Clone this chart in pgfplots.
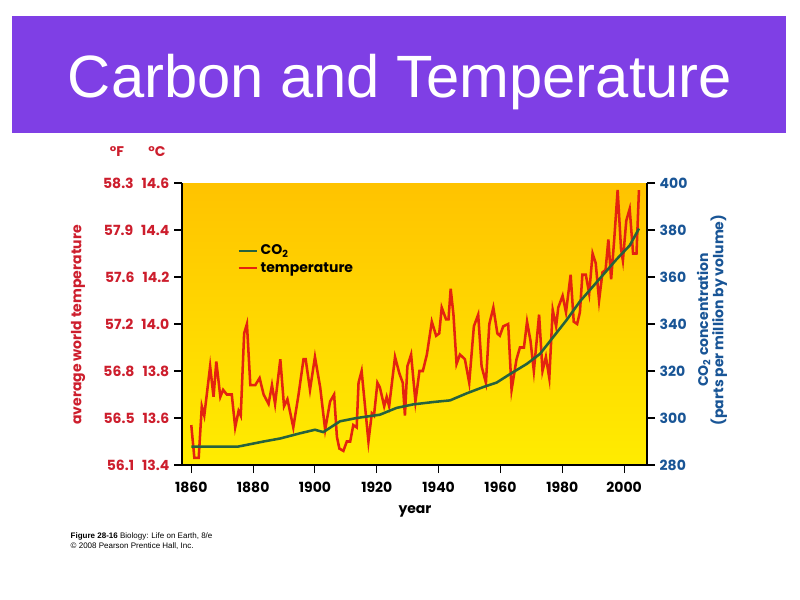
\documentclass[border=0pt]{standalone}
\usepackage{fontspec}
\setmainfont{Liberation Sans}
\newfontfamily\pop{Poppins}
\usepackage{pgfplots}
\pgfplotsset{compat=1.18}

\definecolor{band}{RGB}{127,63,229}
\definecolor{lblred}{RGB}{205,30,45}
\definecolor{lblblue}{RGB}{25,85,150}
\definecolor{tred}{RGB}{228,35,15}
\definecolor{cgreen}{RGB}{38,98,62}
\definecolor{topy}{RGB}{255,195,0}
\definecolor{boty}{RGB}{255,236,0}
\newcommand\cf{\pop\bfseries\fontsize{10.5}{11.5}\selectfont}

\pgfplotstableread{
year T
1860 13.57
1861 13.43
1862.4 13.43
1863.4 13.65
1864.2 13.61
1866.1 13.82
1867.2 13.69
1868.1 13.84
1869.4 13.69
1870.3 13.72
1871.5 13.70
1873.1 13.70
1874.2 13.56
1875.3 13.63
1876 13.61
1877.1 13.96
1878 14.00
1879.1 13.74
1880.7 13.74
1882.1 13.77
1883.4 13.70
1885 13.66
1886.1 13.74
1887.1 13.66
1888.8 13.85
1890 13.65
1891.1 13.68
1893 13.56
1894.7 13.70
1896.3 13.85
1897 13.85
1898.4 13.72
1900 13.86
1901.7 13.73
1903.3 13.55
1904.9 13.67
1906.2 13.70
1907.1 13.52
1907.9 13.47
1909.2 13.46
1910.3 13.50
1911.4 13.50
1912.4 13.57
1913.5 13.56
1914.1 13.75
1915.1 13.80
1916.2 13.65
1917.3 13.50
1918.4 13.62
1919.1 13.61
1920.2 13.75
1921 13.73
1922.4 13.65
1923.2 13.69
1924 13.65
1925.9 13.86
1927.3 13.79
1928.4 13.75
1929.1 13.61
1929.9 13.82
1931.1 13.87
1932.5 13.67
1933.8 13.80
1934.9 13.80
1936.2 13.87
1937.8 14.01
1939.2 13.95
1940.2 13.96
1941 14.07
1942.4 14.02
1943.2 14.02
1943.9 14.15
1944.8 14.04
1945.8 13.83
1946.9 13.87
1948.5 13.85
1949.9 13.75
1951.4 13.99
1952.8 14.04
1953.9 13.82
1955.3 13.75
1956.4 14.00
1957.7 14.07
1959 13.96
1959.8 13.95
1960.9 13.99
1962.5 14.00
1963.6 13.72
1965.2 13.85
1966.3 13.90
1967.6 13.90
1968.6 14.01
1969.7 13.93
1970.8 13.80
1972.5 14.04
1973.6 13.80
1974.7 13.86
1975.8 13.77
1976.9 14.06
1978 13.99
1978.7 14.07
1980.1 14.12
1981.2 14.05
1982.7 14.21
1983.7 14.01
1984.8 14.00
1985.7 14.05
1986.5 14.21
1987.6 14.21
1988.7 14.13
1989.8 14.30
1990.8 14.26
1991.9 14.10
1993 14.22
1994 14.23
1994.9 14.36
1995.8 14.19
1996.8 14.36
1997.9 14.57
1999 14.32
1999.6 14.27
2000.7 14.44
2001.8 14.49
2002.9 14.30
2004 14.30
2004.8 14.57
}\temptable

\pgfplotstableread{
year C
1860 287.8
1875 287.8
1883.4 290.0
1888.8 291.3
1895.2 293.5
1900 295.0
1902.7 294.0
1908.1 298.6
1913.5 300.0
1921 301.4
1926.4 304.3
1931.8 305.8
1938.3 306.8
1943.7 307.5
1949.1 310.5
1954.5 313.2
1958.8 315.1
1963.1 318.7
1968.5 323.0
1972.8 327.3
1977.1 334.5
1981.4 341.7
1985.7 349.6
1990 356.1
1994.3 362.6
1997.6 367.6
2001.8 373.4
2004.8 380.6
}\cotable

\begin{document}
\begin{tikzpicture}
\begin{scope}[x=0.75pt,y=-0.75pt]
\useasboundingbox (0,0) rectangle (800,600);
\fill[white] (0,0) rectangle (800,600);
\fill[band] (12,16) rectangle (786,133);
\node[white, font=\fontsize{44.8}{50}\selectfont, anchor=base] at (400,97) {Carbon and Temperature};
\end{scope}

\begin{axis}[
  at={(136.5pt,-348.75pt)}, anchor=south west,
  scale only axis, width=348.75pt, height=211.5pt,
  xmin=1857, xmax=2007.4, ymin=13.4, ymax=14.6,
  axis x line*=bottom, axis y line*=left,
  axis line style={-, black, line width=0.8pt},
  xtick={1860,1880,1900,1920,1940,1960,1980,2000},
  xticklabels={1860,1880,1900,1920,1940,1960,1980,2000},
  ytick={13.4,13.6,13.8,14.0,14.2,14.4,14.6},
  yticklabels={{56.1\hspace{6pt}13.4},{56.5\hspace{6pt}13.6},{56.8\hspace{6pt}13.8},{57.2\hspace{6pt}14.0},{57.6\hspace{6pt}14.2},{57.9\hspace{6pt}14.4},{58.3\hspace{6pt}14.6}},
  tick align=outside, major tick length=6pt,
  tick style={black, line width=0.8pt},
  x tick label style={font=\cf, text=black, yshift=-3pt},
  y tick label style={font=\cf, text=lblred},
  axis background/.style={top color=topy, bottom color=boty},
  legend style={draw=none, fill=none, at={(0.11,0.80)}, anchor=north west,
    font=\cf, row sep=0pt},
  legend cell align=left,
  legend image code/.code={\draw[#1] (0pt,0pt) -- (13.5pt,0pt);},
]
\addlegendimage{cgreen, line width=1.9pt}
\addlegendentry{CO\textsubscript{2}}
\addplot[tred, line width=1.9pt] table[x=year, y=T] {\temptable};
\addlegendentry{temperature}
\end{axis}

\begin{axis}[
  at={(136.5pt,-348.75pt)}, anchor=south west,
  scale only axis, width=348.75pt, height=211.5pt,
  xmin=1857, xmax=2007.4, ymin=280, ymax=400,
  axis x line=none, axis y line*=right,
  axis line style={-, black, line width=0.8pt},
  ytick={280,300,320,340,360,380,400},
  yticklabels={280,300,320,340,360,380,400},
  tick align=outside, major tick length=6pt,
  tick style={black, line width=0.8pt},
  y tick label style={font=\cf, text=lblblue},
]
\addplot[cgreen, line width=1.9pt] table[x=year, y=C] {\cotable};
\end{axis}

\begin{scope}[x=0.75pt,y=-0.75pt]
\node[lblred, font=\cf] at (117,152) {°F};
\node[lblred, font=\cf] at (157,152) {°C};
\node[lblred, font=\cf, rotate=90] at (78,325) {average world temperature};
\node[lblblue, font=\cf, rotate=90, align=center] at (712,320) {CO\textsubscript{2} concentration\\(parts per million by volume)};
\node[black, font=\cf] at (415,511) {year};
\node[anchor=west, font=\fontsize{6}{7.5}\selectfont, align=left] at (66,541) {\textbf{Figure 28-16} Biology: Life on Earth, 8/e\\\textcopyright\ 2008 Pearson Prentice Hall, Inc.};
\end{scope}
\end{tikzpicture}
\end{document}
